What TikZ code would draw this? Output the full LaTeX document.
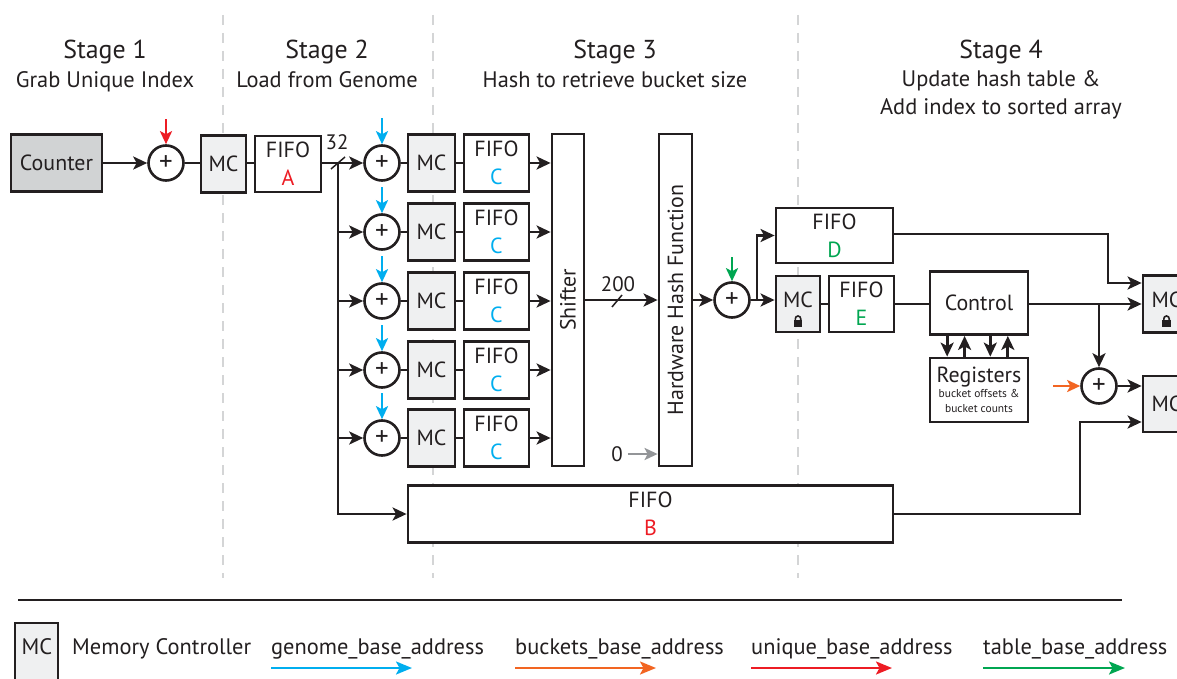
\documentclass[tikz,border=0pt]{standalone}
\usepackage{fontspec}
\setmainfont{PT Sans}
\usetikzlibrary{arrows.meta,calc}
\definecolor{cblue}{HTML}{00AEEF}
\definecolor{cred}{HTML}{ED1C24}
\definecolor{cgreen}{HTML}{00A651}
\definecolor{corange}{HTML}{F26522}
\definecolor{cgray}{HTML}{939598}
\definecolor{mcfill}{HTML}{EFF0F1}
\definecolor{ctrfill}{HTML}{D1D3D4}
\definecolor{dline}{HTML}{D4D5D6}
\definecolor{ink}{HTML}{231F20}
\tikzset{
  every node/.style={font=\fontsize{22}{28}\selectfont, text=ink, inner sep=0pt},
  blk/.style={draw=ink, line width=2.8bp, fill=white, align=center},
  mcbox/.style={blk, fill=mcfill},
  fifobox/.style={blk},
  plus/.style={draw=ink, line width=2.6bp, circle, fill=white, minimum size=35bp, font=\fontsize{27}{27}\selectfont},
  ln/.style={draw=ink, line width=2.7bp},
  arr/.style={ln, -{Stealth[length=14bp,width=13bp,inset=3.5bp]}},
  carr/.style={draw=#1, line width=2.6bp, -{Stealth[length=13bp,width=12bp,inset=3bp]}},
  legarr/.style={draw=#1, line width=2.4bp, -{Stealth[length=16bp,width=13bp,inset=3.5bp]}},
  sep/.style={draw=dline, line width=2.6bp, dash pattern=on 10bp off 8bp},
  slash/.style={draw=ink, line width=1.5bp},
  head/.style={font=\fontsize{26}{30}\selectfont, anchor=base},
  sub/.style={font=\fontsize{22.5}{27}\selectfont, anchor=base},
  legtxt/.style={font=\fontsize{22.5}{25}\selectfont, anchor=base west},
  padlock/.pic={
    \fill[ink] (-4.2,-1) rectangle (4.2,5.5);
    \draw[ink,line width=1.6bp] (-2.7,-0.5) -- (-2.7,-2.3) arc[start angle=180,end angle=360,radius=2.7] -- (2.7,-0.5);
  }
}
\begin{document}
\begin{tikzpicture}[x=1bp,y=-1bp]
\useasboundingbox (0,0) rectangle (1177,679);
\clip (0,0) rectangle (1177,679);

% stage separators
\draw[sep] (223,15) -- (223,578);
\draw[sep] (433,15) -- (433,578);
\draw[sep] (798,15) -- (798,578);

% headings
\node[head] (s1) at (105,59) {Stage 1};
\node[sub] (s1b) at (105,88) {Grab Unique Index};
\node[head] (s2) at (327,59) {Stage 2};
\node[sub] (s2b) at (327,88) {Load from Genome};
\node[head] (s3) at (615,59) {Stage 3};
\node[sub] (s3b) at (615,88) {Hash to retrieve bucket size};
\node[head] (s4) at (1001,59) {Stage 4};
\node[sub] (s4b) at (1001,87) {Update hash table \&};
\node[sub] (s4c) at (1001,115) {Add index to sorted array};

% stage 1
\node[blk, fill=ctrfill, minimum width=91bp, minimum height=57bp] (counter) at (56.5,163) {Counter};
\node[plus] (p0) at (166,163) {+};
\node[mcbox, minimum width=45bp, minimum height=57bp] (mc0) at (223.5,164) {MC};
\node[fifobox, minimum width=66bp, minimum height=56bp] (fa) at (288,164) {FIFO\\\textcolor{cred}{A}};
\draw[arr] (counter.east) -- (p0.west);
\draw[ln] (p0.east) -- (p0 -| mc0.west);
\draw[ln] (mc0.east |- p0) -- (p0 -| fa.west);
\coordinate (r0) at ($(p0.north)+(0,-25)$);
\draw[carr=cred] (r0) -- (p0.north);

% stage 2/3 columns
\node[blk, minimum width=32bp, minimum height=332bp] (shifter) at (568,300) {};
\node[rotate=90] (shiftT) at (shifter.center) {Shifter};
\node[blk, minimum width=33bp, minimum height=332bp] (hash) at (675.5,300) {};
\node[rotate=90] (hashT) at (hash.center) {Hardware Hash Function};

\coordinate (split) at (338,163);
\foreach \i/\y in {1/163,2/232,3/301,4/370,5/438}{
  \node[plus] (p\i) at (382,\y) {+};
  \node[mcbox, minimum width=47bp, minimum height=57bp] (m\i) at (431.5,\y) {MC};
  \node[fifobox, minimum width=65bp, minimum height=57bp] (c\i) at (496.5,\y) {FIFO\\\textcolor{cblue}{C}};
  \draw[ln] (p\i.east) -- (m\i.west);
  \draw[ln] (m\i.east) -- (c\i.west);
  \draw[arr] (c\i.east) -- (c\i -| shifter.west);
  \coordinate (b\i) at ($(p\i.north)+(0,-26)$);
  \draw[carr=cblue] (b\i) -- (p\i.north);
}
\draw[arr] (fa.east |- split) -- (p1.west);
\foreach \i in {2,...,5}{ \draw[arr] (split |- p\i) -- (p\i.west); }

\node[sub, font=\fontsize{21}{24}\selectfont] (w32) at (337,150) {32};
\draw[slash] ($(split)+(-7,6)$) -- ($(split)+(7,-6)$);

% FIFO B
\node[fifobox, minimum width=485bp, minimum height=57bp] (fb) at (650.5,514) {FIFO\\\textcolor{cred}{B}};
\draw[arr] (split) |- (fb.west);

% shifter -> hash
\draw[arr] (shifter.east) -- (hash.west);
\coordinate (s200) at (617,301);
\draw[slash] ($(s200)+(-5,6)$) -- ($(s200)+(5,-6)$);
\node[sub, font=\fontsize{21}{24}\selectfont] (w200) at (618,291) {200};
\node[font=\fontsize{21}{24}\selectfont] (zero) at (617,454) {0};
\draw[draw=cgray, line width=2.4bp, -{Stealth[length=13bp,width=12bp,inset=3bp]}] ($(zero.east)+(5,0)$) -- (zero -| hash.west);

% stage 4
\node[plus] (ph) at (732,300) {+};
\draw[arr] (hash.east |- ph) -- (ph.west);
\coordinate (g0) at ($(ph.north)+(0,-24)$);
\draw[carr=cgreen] (g0) -- (ph.north);

\node[fifobox, minimum width=117bp, minimum height=55bp] (fd) at (834.5,235.5) {FIFO\\\textcolor{cgreen}{D}};
\node[mcbox, minimum width=44bp, minimum height=56bp] (mce) at (798,304) {};
\node (mceT) at ($(mce.center)+(0,-4)$) {MC};
\pic at ($(mce.center)+(0,17)$) {padlock};
\node[fifobox, minimum width=65bp, minimum height=56bp] (fe) at (861.5,304) {FIFO\\\textcolor{cgreen}{E}};
\node[blk, minimum width=98bp, minimum height=63bp] (ctrl) at (979,303) {Control};
\node[blk, minimum width=98bp, minimum height=64bp] (reg) at (979,390) {};
\node (regT) at ($(reg.center)+(0,-13)$) {Registers};
\node[font=\fontsize{11.5}{15}\selectfont, align=center] (regS) at ($(reg.center)+(0,11)$) {bucket offsets \&\\bucket counts};

\coordinate (sp2) at (757,300);
\draw[arr] (ph.east) -- (ph -| mce.west);
\draw[arr] (sp2) |- (fd.west);
\draw[ln] (mce.east) -- (fe.west);
\draw[ln] (fe.east) -- (fe -| ctrl.west);

\foreach \f/\dir in {0.184/d,0.357/u,0.612/d,0.786/u}{
  \coordinate (cs) at ($(ctrl.south west)!\f!(ctrl.south east)$);
  \coordinate (rn) at ($(reg.north west)!\f!(reg.north east)$);
  \if\dir d \draw[arr] (cs) -- (rn); \else \draw[arr] (rn) -- (cs); \fi
}

\node[mcbox, minimum width=47bp, minimum height=57bp] (mr1) at (1166.5,304) {};
\node (mr1T) at ($(mr1.center)+(0,-4)$) {MC};
\pic at ($(mr1.center)+(0,17)$) {padlock};
\node[mcbox, minimum width=47bp, minimum height=56bp] (mr2) at (1166.5,404) {MC};
\node[plus] (pr) at (1099,386) {+};

\draw[arr] (ctrl.east |- mr1) -- (mr1.west);
\coordinate (sp3) at (1099,304);
\draw[arr] (sp3) -- (pr.north);
\draw[arr] (pr.east) -- (pr -| mr2.west);
\coordinate (o0) at ($(pr.west)+(-27,0)$);
\draw[carr=corange] (o0) -- (pr.west);
\coordinate (bendD) at (1108,283);
\draw[arr] (fd.east |- 0,234) -| (bendD) -- (bendD -| mr1.west);
\coordinate (bendB) at (1080,422);
\draw[arr] (fb.east) -| (bendB) -- (bendB -| mr2.west);

% legend
\coordinate (rl) at (18,600);
\coordinate (rr) at (1122,600);
\draw[draw=ink, line width=2.8bp] (rl) -- (rr);
\node[mcbox, minimum width=43bp, minimum height=64bp] (lmc) at (36.5,655) {};
\node[legtxt, anchor=base] (lmcT) at (37,654) {MC};
\node[legtxt] (lmem) at (72,654) {Memory Controller};
\node[legtxt] (lgen) at (271,654) {genome\_base\_address};
\node[legtxt] (lbuc) at (515,654) {buckets\_base\_address};
\node[legtxt] (luni) at (751,654) {unique\_base\_address};
\node[legtxt] (ltab) at (983,654) {table\_base\_address};
\coordinate (ag) at (271,668); \coordinate (agE) at (412,668);
\coordinate (ab) at (515,668); \coordinate (abE) at (656,668);
\coordinate (au) at (751,668); \coordinate (auE) at (892,668);
\coordinate (at) at (983,668); \coordinate (atE) at (1125,668);
\draw[legarr=cblue] (ag) -- (agE);
\draw[legarr=corange] (ab) -- (abE);
\draw[legarr=cred] (au) -- (auE);
\draw[legarr=cgreen] (at) -- (atE);
\end{tikzpicture}
\end{document}
